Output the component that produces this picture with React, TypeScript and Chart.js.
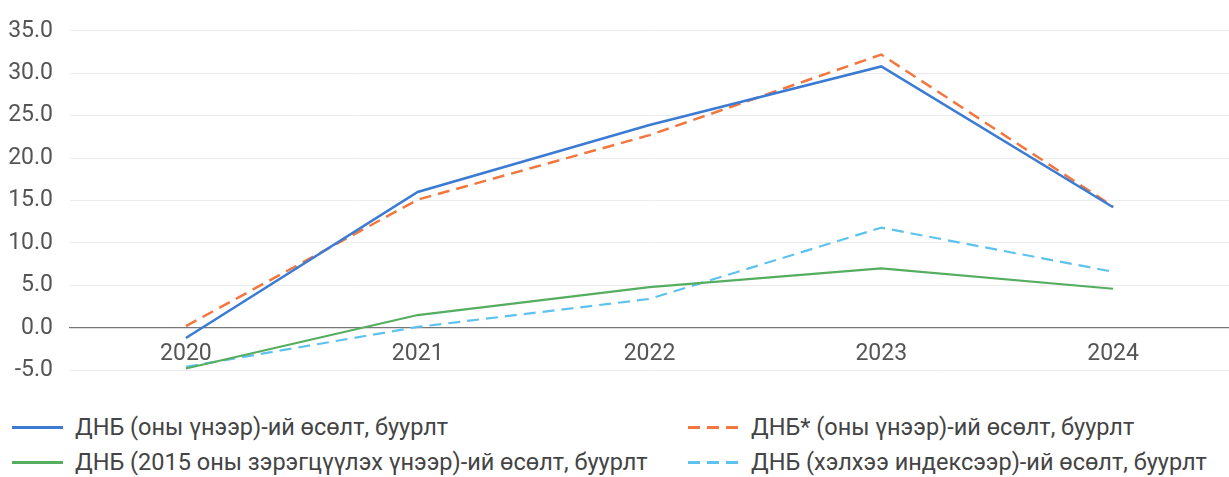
import React, { useEffect, useRef } from "react";
import { Chart, registerables } from "chart.js";

Chart.register(...registerables);

const categories = ["2020", "2021", "2022", "2023", "2024"];
const gdpCurrent = [-1.2, 16.0, 23.9, 30.8, 14.2];
const gdpStarCurrent = [0.2, 15.1, 22.7, 32.2, 14.3];
const gdpConstant2015 = [-4.8, 1.5, 4.8, 7.0, 4.6];
const gdpChainIndex = [-4.6, 0.1, 3.4, 11.8, 6.6];

const labelCurrent = "ДНБ (оны үнээр)-ий өсөлт, буурлт";
const labelStar = "ДНБ* (оны үнээр)-ий өсөлт, буурлт";
const labelConstant = "ДНБ (2015 оны зэрэгцүүлэх үнээр)-ий өсөлт, буурлт";
const labelChain = "ДНБ (хэлхээ индексээр)-ий өсөлт, буурлт";

const BLUE = "#3b7bd4";
const ORANGE = "#f2773f";
const GREEN = "#55ad60";
const LIGHTBLUE = "#5ec2ee";

const FONT = "Roboto, 'Noto Sans', sans-serif";

function Swatch({ color, dashed }: { color: string; dashed: boolean }) {
  return (
    <span
      style={{
        display: "inline-block",
        width: 51,
        height: 3,
        background: dashed
          ? `repeating-linear-gradient(to right, ${color} 0px, ${color} 12px, transparent 12px, transparent 19px)`
          : color,
        marginRight: 12,
      }}
    />
  );
}

function LegendItem({ left, top, color, dashed, text }: { left: number; top: number; color: string; dashed: boolean; text: string }) {
  return (
    <div
      style={{
        position: "absolute",
        left,
        top,
        display: "flex",
        alignItems: "center",
        fontFamily: FONT,
        fontSize: 23.5,
        color: "#444",
        whiteSpace: "nowrap",
        lineHeight: "28px",
      }}
    >
      <Swatch color={color} dashed={dashed} />
      <span>{text}</span>
    </div>
  );
}

export default function App() {
  const ref = useRef<HTMLCanvasElement | null>(null);

  useEffect(() => {
    if (!ref.current) return;
    const chart = new Chart(ref.current, {
      type: "line",
      data: {
        labels: categories,
        datasets: [
          { label: labelCurrent, data: gdpCurrent, borderColor: BLUE, borderWidth: 2.5, pointRadius: 0, tension: 0 },
          { label: labelStar, data: gdpStarCurrent, borderColor: ORANGE, borderWidth: 2.5, borderDash: [12, 7], pointRadius: 0, tension: 0 },
          { label: labelConstant, data: gdpConstant2015, borderColor: GREEN, borderWidth: 2.2, pointRadius: 0, tension: 0 },
          { label: labelChain, data: gdpChainIndex, borderColor: LIGHTBLUE, borderWidth: 2.2, borderDash: [12, 7], pointRadius: 0, tension: 0 },
        ],
      },
      options: {
        animation: false,
        responsive: true,
        maintainAspectRatio: false,
        layout: { padding: { left: 2, right: 0, top: 16, bottom: 0 } },
        plugins: { legend: { display: false }, tooltip: { enabled: false } },
        scales: {
          x: {
            type: "category",
            position: { y: 0 } as any,
            offset: true,
            grid: { display: false, drawTicks: false },
            border: { display: true, color: "#777", width: 1.2 },
            ticks: { color: "#555", font: { family: FONT, size: 23 }, padding: 13 },
          },
          y: {
            min: -5,
            max: 35,
            afterFit: (scale: any) => {
              scale.width = 68;
            },
            ticks: {
              stepSize: 5,
              color: "#555",
              font: { family: FONT, size: 23 },
              padding: 17,
              callback: (v: any) => Number(v).toFixed(1),
            },
            grid: { color: "#ececec", drawTicks: false, lineWidth: 1 },
            border: { display: false },
          },
        },
      },
    });
    return () => chart.destroy();
  }, []);

  return (
    <div style={{ position: "absolute", left: 0, top: 0, width: 1229, height: 477, background: "#fff" }}>
      <div style={{ position: "absolute", left: 0, top: 0, width: 1229, height: 401 }}>
        <canvas ref={ref} />
      </div>
      <LegendItem left={12} top={413} color={BLUE} dashed={false} text={labelCurrent} />
      <LegendItem left={12} top={448} color={GREEN} dashed={false} text={labelConstant} />
      <LegendItem left={688} top={413} color={ORANGE} dashed={true} text={labelStar} />
      <LegendItem left={688} top={448} color={LIGHTBLUE} dashed={true} text={labelChain} />
    </div>
  );
}
